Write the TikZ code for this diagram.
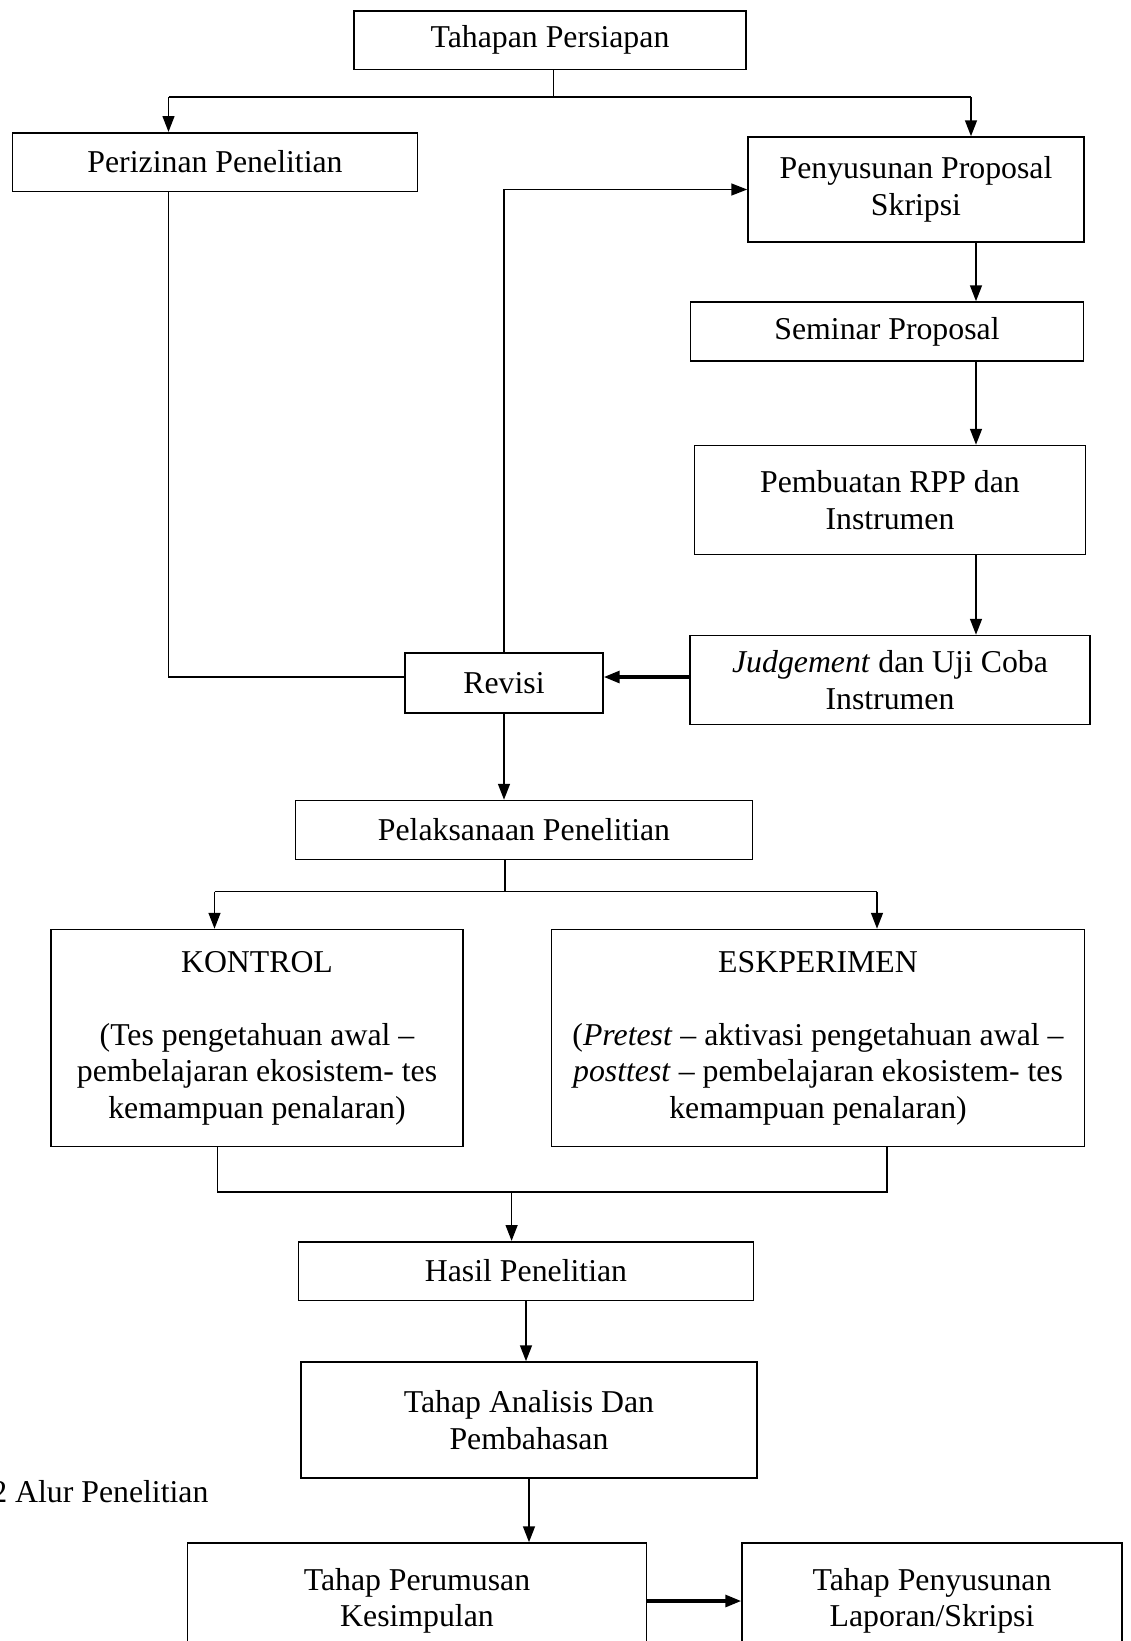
\documentclass[tikz,border=0pt]{standalone}
\usepackage{fontspec}
\setmainfont{Liberation Serif}
\usetikzlibrary{arrows.meta}
\newcommand\pxu{0.3775pt}
\tikzset{
  box/.style 2 args={draw, line width=0.6pt, inner sep=0pt, align=center,
    minimum width=#1*\pxu, minimum height=#2*\pxu},
  ln/.style={line width=0.6pt},
  arr/.style={line width=0.6pt, -{Triangle[length=6pt,width=4.5pt]}},
  tebal/.style={line width=1.2pt}
}
\begin{document}
\begin{tikzpicture}[x=\pxu, y=-\pxu, font=\fontsize{12pt}{13.8pt}\selectfont]
\useasboundingbox (0,0) rectangle (1131,1641);
\node[box={392}{58.6}] (tahap) at (550,40) {Tahapan Persiapan};
\node[box={405}{58.6}] (izin) at (215,162) {Perizinan Penelitian};
\node[box={336}{105}] (susun) at (916,189.5) {Penyusunan Proposal\\Skripsi};
\node[box={393}{59}] (seminar) at (887,331.5) {Seminar Proposal};
\node[box={391}{109}] (rpp) at (890,500) {Pembuatan RPP dan\\Instrumen};
\node[box={400}{89}] (judge) at (890,680) {\textit{Judgement} dan Uji Coba\\Instrumen};
\node[box={198}{60}] (revisi) at (504,683) {Revisi};
\node[box={457}{59}] (laksana) at (524,830) {Pelaksanaan Penelitian};
\node[box={412}{217}] (kontrol) at (257,1038) {KONTROL\\[13.8pt](Tes pengetahuan awal –\\pembelajaran ekosistem- tes\\kemampuan penalaran)};
\node[box={533}{217}] (eksp) at (818,1038) {ESKPERIMEN\\[13.8pt](\textit{Pretest} – aktivasi pengetahuan awal –\\\textit{posttest} – pembelajaran ekosistem- tes\\kemampuan penalaran)};
\node[box={455}{58.6}] (hasil) at (526,1271) {Hasil Penelitian};
\node[box={456}{116}] (analisis) at (529,1420) {Tahap Analisis Dan\\Pembahasan};
\node[box={459}{116}] (rumus) at (417,1601) {Tahap Perumusan\\Kesimpulan};
\node[box={380}{116}] (lapor) at (932,1601) {Tahap Penyusunan\\Laporan/Skripsi};
\node[anchor=east, inner sep=0pt] (judul) at (209,1492) {2 Alur Penelitian};

\coordinate (s1) at (553.5,97);
\coordinate (s1L) at (168.5,97);
\coordinate (s1R) at (971,97);
\draw[ln] (tahap.south -| s1) -- (s1);
\draw[ln,line width=0.9pt] (s1L) -- (s1R);
\draw[arr] (s1L) -- (s1L |- izin.north);
\draw[arr] (s1R) -- (s1R |- susun.north);
\coordinate (rv) at (0,677);
\draw[ln] (izin.south -| s1L) |- (revisi.west |- rv);
\draw[arr] (revisi.north) |- (susun.west);
\coordinate (kol) at (976,0);
\draw[arr] (susun.south -| kol) -- (seminar.north -| kol);
\draw[arr] (seminar.south -| kol) -- (rpp.north -| kol);
\draw[arr] (rpp.south -| kol) -- (judge.north -| kol);
\draw[arr,tebal] (judge.west |- rv) -- (revisi.east |- rv);
\draw[arr] (revisi.south) -- (revisi.south |- laksana.north);
\coordinate (s2) at (505,891.5);
\coordinate (s2L) at (214.5,891.5);
\coordinate (s2R) at (877,891.5);
\draw[ln] (laksana.south -| s2) -- (s2);
\draw[ln] (s2L) -- (s2R);
\draw[arr] (s2L) -- (s2L |- kontrol.north);
\draw[arr] (s2R) -- (s2R |- eksp.north);
\coordinate (m1) at (217.6,1192);
\coordinate (m2) at (887,1192);
\coordinate (m3) at (511.6,1192);
\draw[ln] (kontrol.south -| m1) |- (m2) -- (eksp.south -| m2);
\draw[arr] (m3) -- (m3 |- hasil.north);
\draw[arr] (hasil.south) -- (hasil.south |- analisis.north);
\draw[arr] (analisis.south) -- (analisis.south |- rumus.north);
\draw[arr,tebal] (rumus.east) -- (lapor.west);
\end{tikzpicture}
\end{document}
